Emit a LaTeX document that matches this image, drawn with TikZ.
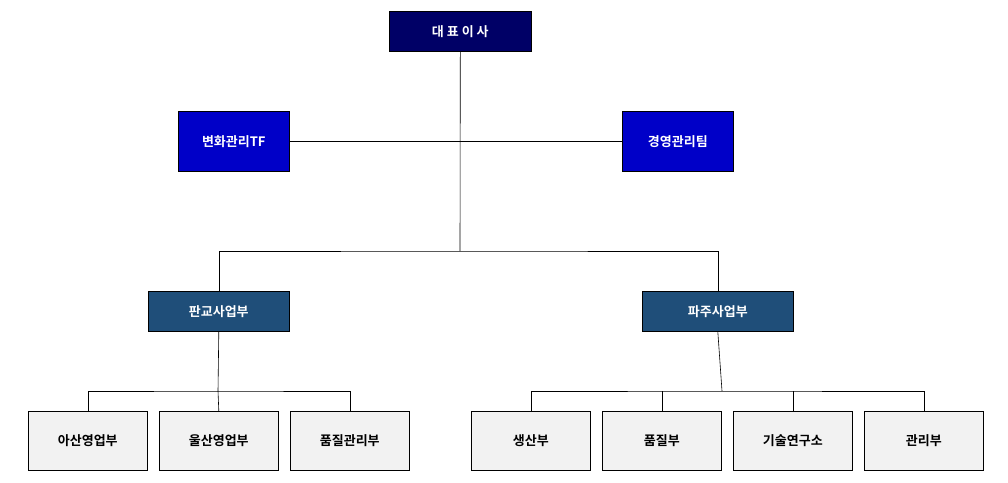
\documentclass[tikz,border=0pt]{standalone}
\usepackage{fontspec}
\newfontfamily\kr{Noto Sans CJK KR}[BoldFont={Noto Sans CJK KR Bold}]
\begin{document}
\begin{tikzpicture}[x=1pt,y=-1pt,
 box/.style={draw=black,line width=0.6pt,minimum height=#1,inner sep=0pt,font=\kr\bfseries\fontsize{13}{13}\selectfont,anchor=north west},
 ceo/.style={box=40pt,fill=ceoC,text=white},
 staff/.style={box=60pt,fill=staffC,text=white},
 div/.style={box=40pt,fill=divC,text=white},
 dept/.style={box=59pt,fill=deptC,text=black,minimum width=119pt},
 ln/.style={line width=0.6pt}]
\definecolor{ceoC}{HTML}{000066}
\definecolor{staffC}{HTML}{0000C8}
\definecolor{divC}{HTML}{1F4E79}
\definecolor{deptC}{HTML}{F2F2F2}
\useasboundingbox (0,0) rectangle (1008,482);
\node[ceo,minimum width=142pt] (ceo) at (389,11) {대 표 이 사};
\node[staff,minimum width=111pt] (tf) at (178,111) {변화관리TF};
\node[staff,minimum width=111pt] (mg) at (622,111) {경영관리팀};
\node[div,minimum width=141pt] (pg) at (148,291) {판교사업부};
\node[div,minimum width=151pt] (pj) at (642,291) {파주사업부};
\node[dept] (a1) at (28,411) {아산영업부};
\node[dept] (a2) at (159,411) {울산영업부};
\node[dept] (a3) at (290,411) {품질관리부};
\node[dept] (b1) at (471,411) {생산부};
\node[dept] (b2) at (602,411) {품질부};
\node[dept] (b3) at (733,411) {기술연구소};
\node[dept] (b4) at (864,411) {관리부};
\coordinate (j1) at (460,251);
\coordinate (j2) at (218,391);
\coordinate (j3) at (722,391);
\draw[ln] (ceo.south) -- (j1);
\draw[ln] (tf.east) -- (mg.west);
\draw[ln] (pg.north) |- (j1) -| (pj.north);
\draw[ln] (pg.south) -- (j2);
\draw[ln] (a1.north) |- (j2) -| (a3.north);
\draw[ln] (a2.north) -- (j2);
\draw[ln] (pj.south) -- (j3);
\draw[ln] (b1.north) |- (j3) -| (b4.north);
\draw[ln] (b2.north) -- (b2.north |- j3);
\draw[ln] (b3.north) -- (b3.north |- j3);
\end{tikzpicture}
\end{document}
